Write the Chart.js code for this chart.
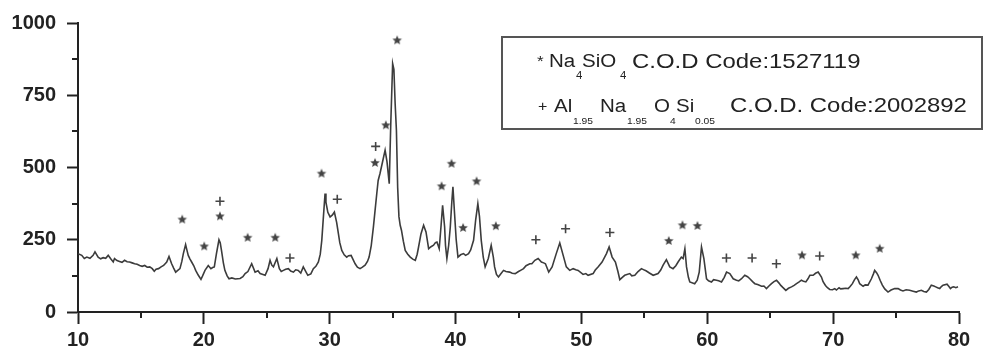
<!DOCTYPE html>
<html lang="en">
  <head>
    <meta charset="UTF-8" />
    <title>XRD Pattern</title>
    <script src="https://cdn.jsdelivr.net/npm/chart.js"></script>
    <style>
      html, body { margin: 0; padding: 0; background: #fff; }
      .chart-box { width: 984px; height: 352px; position: relative; }
    </style>
  </head>
  <body>
    <div class="chart-box"><canvas id="xrdChart"></canvas></div>

    <script>
      // 2-theta (deg) and intensity
      const twoTheta = [
        10.0, 10.3, 10.5, 10.7, 10.95, 11.2, 11.35, 11.6, 11.8, 12.0, 12.2, 12.4, 12.6, 12.8, 12.9,
        13.1, 13.3, 13.5, 13.7, 13.9, 14.1, 14.3, 14.5, 14.7, 14.9, 15.1, 15.3, 15.5, 15.7, 15.9,
        16.06, 16.2, 16.4, 16.6, 16.8, 17.05, 17.23, 17.44, 17.6, 17.76, 17.95, 18.1, 18.25, 18.37,
        18.55, 18.65, 18.76, 18.9, 19.03, 19.2, 19.35, 19.55, 19.77, 19.9, 20.09, 20.35, 20.56, 20.7,
        20.83, 21.0, 21.2, 21.3, 21.4, 21.55, 21.67, 21.85, 22.0, 22.22, 22.5, 22.88, 23.1, 23.28,
        23.5, 23.8, 24.07, 24.3, 24.47, 24.7, 24.87, 25.1, 25.26, 25.4, 25.53, 25.8, 26.0, 26.15,
        26.32, 26.5, 26.72, 26.9, 27.12, 27.3, 27.5, 27.7, 27.9, 28.1, 28.26, 28.5, 28.7, 28.9, 29.1,
        29.25, 29.37, 29.5, 29.63, 29.7, 29.85, 30.03, 30.2, 30.37, 30.55, 30.69, 30.8, 30.96, 31.15,
        31.35, 31.5, 31.7, 31.85, 32.02, 32.2, 32.41, 32.6, 32.81, 33.0, 33.13, 33.3, 33.47, 33.6,
        33.74, 33.85, 34.0, 34.2, 34.4, 34.55, 34.73, 34.85, 35.0, 35.1, 35.2, 35.3, 35.4, 35.5, 35.6,
        35.7, 35.85, 36.0, 36.2, 36.4, 36.6, 36.8, 36.95, 37.06, 37.25, 37.46, 37.65, 37.86, 38.05,
        38.25, 38.4, 38.52, 38.7, 38.85, 38.97, 39.13, 39.2, 39.31, 39.45, 39.58, 39.7, 39.79, 39.92,
        40.05, 40.19, 40.4, 40.63, 40.8, 41.03, 41.2, 41.43, 41.6, 41.77, 41.9, 42.04, 42.2, 42.35,
        42.6, 42.83, 43.0, 43.1, 43.25, 43.41, 43.6, 43.81, 44.0, 44.3, 44.5, 44.74, 45.0, 45.2, 45.4,
        45.6, 45.9, 46.06, 46.3, 46.56, 46.82, 47.0, 47.14, 47.4, 47.67, 48.0, 48.28, 48.55, 48.8,
        49.07, 49.34, 49.55, 49.74, 50.13, 50.35, 50.53, 50.93, 51.1, 51.32, 51.64, 51.99, 52.2,
        52.44, 52.7, 52.9, 53.05, 53.25, 53.44, 53.84, 54.0, 54.24, 54.5, 54.77, 55.0, 55.16, 55.4,
        55.7, 56.09, 56.3, 56.49, 56.75, 57.02, 57.28, 57.5, 57.68, 57.94, 58.08, 58.22, 58.35, 58.5,
        58.61, 59.0, 59.2, 59.36, 59.54, 59.73, 59.94, 60.1, 60.33, 60.5, 60.73, 60.9, 61.13, 61.35,
        61.53, 61.79, 62.06, 62.32, 62.5, 62.72, 62.98, 63.2, 63.38, 63.6, 63.78, 64.0, 64.31, 64.5,
        64.7, 64.9, 65.1, 65.3, 65.5, 65.7, 65.84, 66.0, 66.24, 66.45, 66.69, 66.9, 67.09, 67.3,
        67.48, 67.65, 67.83, 68.0, 68.15, 68.41, 68.6, 68.81, 69.07, 69.2, 69.39, 69.55, 69.73,
        69.95, 70.13, 70.26, 70.47, 70.6, 70.79, 71.0, 71.19, 71.35, 71.53, 71.7, 71.85, 72.0, 72.11,
        72.38, 72.55, 72.77, 73.04, 73.2, 73.3, 73.45, 73.57, 73.75, 73.91, 74.1, 74.36, 74.6, 74.89,
        75.16, 75.35, 75.55, 75.8, 76.08, 76.35, 76.61, 76.8, 77.01, 77.2, 77.41, 77.6, 77.8, 78.0,
        78.15, 78.3, 78.47, 78.6, 78.73, 79.05, 79.2, 79.32, 79.45, 79.58, 79.75, 79.92
      ];
      const intensity = [
        202, 196, 185, 190, 186, 196, 208, 190, 184, 188, 186, 196, 184, 173, 185,
        178, 175, 172, 179, 174, 173, 170, 167, 165, 161, 158, 161, 155, 156, 150,
        141, 148, 150, 156, 161, 173, 192, 167, 152, 138, 145, 150, 175, 202,
        233, 215, 196, 183, 173, 160, 144, 128, 113, 125, 144, 161, 150, 154,
        156, 202, 250, 240, 213, 170, 144, 125, 115, 118, 114, 116, 122, 133,
        140, 167, 138, 143, 133, 130, 127, 150, 179, 162, 156, 185, 150, 140,
        144, 148, 150, 142, 138, 146, 144, 135, 156, 140, 127, 132, 150, 158, 173,
        200, 248, 330, 410, 380, 345, 329, 335, 346, 310, 271, 240, 213, 198,
        190, 195, 196, 182, 167, 155, 150, 155, 162, 175, 190, 230, 294, 350,
        410, 455, 480, 520, 560, 520, 444, 650, 860, 840, 720, 629, 430, 330, 300,
        283, 245, 213, 200, 190, 183, 179, 200, 225, 270, 300, 277, 219, 226,
        231, 240, 242, 219, 300, 369, 294, 230, 185, 230, 294, 380, 433, 340,
        250, 190, 198, 202, 196, 202, 215, 248, 320, 375, 330, 248, 190, 156,
        185, 231, 190, 156, 130, 121, 132, 144, 140, 138, 134, 133, 140, 145, 150,
        160, 167, 167, 179, 185, 173, 170, 167, 138, 156, 202, 239, 196, 156,
        144, 150, 146, 144, 130, 133, 127, 133, 145, 156, 173, 202, 225,
        190, 173, 140, 112, 120, 127, 133, 125, 127, 140, 150, 145, 142, 135,
        127, 133, 145, 162, 181, 156, 150, 160, 173, 190, 185, 219, 156, 120,
        104, 98, 110, 138, 225, 185, 115, 108, 104, 112, 110, 108, 104, 120,
        138, 133, 115, 110, 108, 115, 127, 122, 115, 105, 98, 95, 89, 90,
        81, 90, 98, 105, 110, 100, 92, 85, 75, 82, 87, 92, 98, 104,
        110, 106, 104, 115, 127, 127, 134, 138, 121, 105, 92, 84, 78,
        77, 81, 76, 84, 80, 81, 82, 81, 88, 98, 112, 121, 110, 98,
        89, 94, 93, 115, 132, 144, 136, 127, 108, 93, 80, 69, 76, 81,
        81, 76, 73, 77, 75, 72, 69, 73, 75, 71, 69, 78, 93, 90,
        87, 84, 81, 88, 93, 96, 88, 81, 86, 87, 84, 87
      ];

      // phase markers: * Na4SiO4, + Al1.95Na1.95O4Si0.05
      const starX = [18.28, 20.03, 21.28, 23.48, 25.67, 29.35, 33.6, 34.46, 35.36, 38.89, 39.68, 40.6, 41.67, 43.2, 56.94, 58.03, 59.22, 67.53, 71.8, 73.7];
      const starY = [320, 227, 331, 257, 257, 479, 516, 646, 940, 435, 513, 291, 452, 297, 246, 300, 298, 196, 196, 219];
      const plusX = [21.28, 26.84, 30.6, 33.65, 46.38, 48.74, 52.26, 61.52, 63.56, 65.49, 68.93];
      const plusY = [383, 187, 390, 573, 250, 288, 275, 187, 187, 167, 194];

      // axis ticks
      const xMinorTicks = [15, 25, 35, 45, 55, 65, 75];
      const yMinorTicks = [125, 375, 625, 875];

      const inkColor = "#222";
      const lineColor = "#3c3c3c";

      // filled 5-point star used as point style
      function makeStar(r, color) {
        const c = document.createElement("canvas");
        const s = Math.ceil(r * 2 + 2);
        c.width = s;
        c.height = s;
        const g = c.getContext("2d");
        g.fillStyle = color;
        g.beginPath();
        for (let i = 0; i < 10; i++) {
          const rad = i % 2 === 0 ? r : r * 0.45;
          const a = -Math.PI / 2 + (i * Math.PI) / 5;
          const px = s / 2 + rad * Math.cos(a);
          const py = s / 2 + rad * Math.sin(a);
          if (i === 0) g.moveTo(px, py);
          else g.lineTo(px, py);
        }
        g.closePath();
        g.fill();
        return c;
      }

      // minor tick marks + legend box with sub-scripted formulas
      const decorPlugin = {
        id: "decor",
        afterDraw(chart) {
          const ctx = chart.ctx;
          const xs = chart.scales.x;
          const ys = chart.scales.y;
          ctx.save();
          ctx.strokeStyle = inkColor;
          ctx.lineWidth = 2;
          xMinorTicks.forEach((v) => {
            const p = Math.round(xs.getPixelForValue(v));
            ctx.beginPath();
            ctx.moveTo(p, ys.bottom);
            ctx.lineTo(p, ys.bottom + 6);
            ctx.stroke();
          });
          yMinorTicks.forEach((v) => {
            const p = Math.round(ys.getPixelForValue(v));
            ctx.beginPath();
            ctx.moveTo(xs.left - 6, p);
            ctx.lineTo(xs.left, p);
            ctx.stroke();
          });

          // legend frame
          ctx.strokeStyle = "#555";
          ctx.lineWidth = 2;
          ctx.strokeRect(502, 37, 480, 92);

          const txt = (t, x, y, size, sx) => {
            ctx.save();
            ctx.font = size + "px 'Liberation Sans', Arial, sans-serif";
            ctx.translate(x, y);
            ctx.scale(sx || 1.14, 1);
            ctx.fillText(t, 0, 0);
            ctx.restore();
          };
          ctx.fillStyle = inkColor;
          ctx.textBaseline = "alphabetic";
          // line 1
          txt("*", 537, 66, 15);
          txt("Na", 549, 67, 18);
          txt("4", 576, 79, 10);
          txt("SiO", 582, 67, 18);
          txt("4", 620, 79, 10);
          txt("C.O.D Code:1527119", 632, 67.5, 21);
          // line 2
          txt("+", 538, 111, 14);
          txt("Al", 554, 112, 18);
          txt("1.95", 573, 124, 9);
          txt("Na", 600, 112, 18);
          txt("1.95", 627, 124, 9);
          txt("O", 654, 112, 18);
          txt("4", 670, 124, 9);
          txt("Si", 676, 112, 18);
          txt("0.05", 695, 124, 9);
          txt("C.O.D. Code:2002892", 730, 111.7, 21);
          ctx.restore();
        }
      };

      const pattern = twoTheta.map((t, i) => ({ x: t, y: intensity[i] }));
      const stars = starX.map((t, i) => ({ x: t, y: starY[i] }));
      const pluses = plusX.map((t, i) => ({ x: t, y: plusY[i] }));

      const tickFont = { family: "'Liberation Sans', Arial, sans-serif", size: 20, weight: "bold" };

      new Chart(document.getElementById("xrdChart"), {
        type: "line",
        data: {
          datasets: [
            {
              data: pattern,
              borderColor: lineColor,
              borderWidth: 1.6,
              pointRadius: 0,
              tension: 0,
              fill: false
            },
            {
              type: "scatter",
              data: stars,
              pointStyle: makeStar(5, "#444"),
              pointRadius: 5,
              showLine: false
            },
            {
              type: "scatter",
              data: pluses,
              pointStyle: "cross",
              pointRadius: 4.5,
              borderColor: "#444",
              borderWidth: 1.6,
              showLine: false
            }
          ]
        },
        options: {
          responsive: true,
          maintainAspectRatio: false,
          animation: false,
          layout: { padding: { top: 23, right: 25, bottom: 0, left: 0 } },
          plugins: { legend: { display: false }, tooltip: { enabled: false } },
          scales: {
            x: {
              type: "linear",
              min: 10,
              max: 80,
              afterFit: (s) => { s.height = 40; },
              border: { display: true, color: inkColor, width: 2 },
              grid: { drawOnChartArea: false, tickLength: 12, tickWidth: 2, tickColor: inkColor },
              ticks: { stepSize: 10, color: inkColor, font: tickFont, padding: 4, maxRotation: 0 }
            },
            y: {
              min: 0,
              max: 1000,
              afterFit: (s) => { s.width = 78; },
              border: { display: true, color: inkColor, width: 2 },
              grid: { drawOnChartArea: false, tickLength: 11, tickWidth: 2, tickColor: inkColor },
              ticks: {
                stepSize: 250,
                color: inkColor,
                font: tickFont,
                padding: 11,
                callback: (v) => String(v)
              }
            }
          }
        },
        plugins: [decorPlugin]
      });
    </script>
  </body>
</html>
